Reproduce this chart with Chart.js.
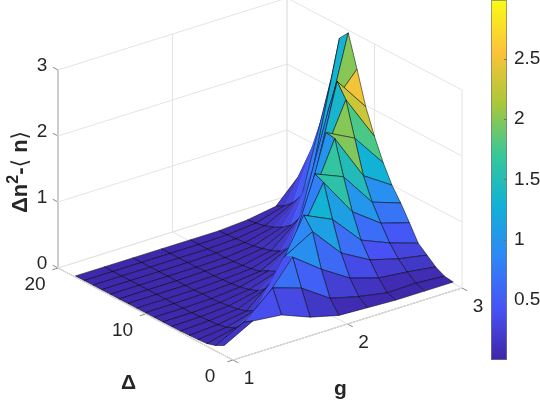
<!DOCTYPE html>
<html>
<head>
<meta charset="utf-8">
<title>Surface plot</title>
<script src="https://cdn.jsdelivr.net/npm/chart.js@4"></script>
<style>
  html, body { margin: 0; padding: 0; background: #fff; }
  #wrap { position: relative; width: 540px; height: 402px; overflow: hidden; }
  #surface { position: absolute; left: 0; top: 0; }
  #colorbar { position: absolute; left: 491px; top: 0; }
</style>
</head>
<body>
<div id="wrap">
  <canvas id="surface" width="540" height="402"></canvas>
  <canvas id="colorbar" width="49" height="360"></canvas>
</div>
<script>
// Grid of the surface
const gValues = [1, 1.25, 1.5, 1.75, 2, 2.25, 2.5, 2.75, 3];
const deltaValues = [1, 2, 3, 4, 5, 6, 7, 8, 9, 10, 11, 12, 13, 14, 15, 16, 17, 18];

// z values, one list per g, delta going 1 to 18
const zG100 = [0.15, 0.08, 0.04, 0.03, 0.025, 0.02, 0.02, 0.02, 0.02, 0.02, 0.02, 0.02, 0.02, 0.02, 0.02, 0.02, 0.02, 0.02];
const zG125 = [0.385, 0.3, 0.14, 0.08, 0.05, 0.04, 0.03, 0.02, 0.02, 0.02, 0.02, 0.02, 0.02, 0.02, 0.02, 0.02, 0.02, 0.02];
const zG150 = [0.34, 0.68, 0.42, 0.2, 0.12, 0.08, 0.06, 0.04, 0.03, 0.03, 0.02, 0.02, 0.02, 0.02, 0.02, 0.02, 0.02, 0.02];
const zG175 = [0.17, 0.54, 0.94, 0.87, 0.5, 0.26, 0.15, 0.1, 0.07, 0.05, 0.04, 0.03, 0.03, 0.02, 0.02, 0.02, 0.02, 0.02];
const zG200 = [0.06, 0.25, 0.62, 1.12, 1.3, 0.8, 0.42, 0.24, 0.18, 0.1, 0.07, 0.05, 0.04, 0.03, 0.03, 0.02, 0.02, 0.02];
const zG225 = [0.04, 0.14, 0.35, 0.66, 1.1, 1.59, 1.65, 1.0, 0.55, 0.32, 0.2, 0.14, 0.1, 0.07, 0.05, 0.04, 0.03, 0.02];
const zG250 = [0.02, 0.06, 0.215, 0.42, 0.65, 1.01, 1.47, 1.98, 2.0, 1.35, 0.8, 0.5, 0.32, 0.22, 0.15, 0.1, 0.07, 0.05];
const zG275 = [0.02, 0.07, 0.17, 0.3, 0.47, 0.7, 0.95, 1.28, 1.78, 2.29, 2.5, 2.0, 1.3, 0.8, 0.5, 0.32, 0.2, 0.12];
const zG300 = [0.02, 0.04, 0.11, 0.22, 0.33, 0.57, 0.8, 1.0, 1.27, 1.6, 1.98, 2.48, 2.96, 2.81, 2.1, 1.46, 0.98, 0.56];
const zByG = [zG100, zG125, zG150, zG175, zG200, zG225, zG250, zG275, zG300];

// Axis ticks
const gTicks = [1, 2, 3];
const deltaTicks = [0, 10, 20];
const zTicks = [0, 1, 2, 3];
const colorTicks = [0.5, 1, 1.5, 2, 2.5];
const colorRange = [0, 2.99];

// Parula colormap
const parula = [
    [62, 38, 168], [72, 82, 244], [46, 135, 247], [18, 177, 214],
    [55, 200, 151], [171, 199, 57], [254, 195, 56], [249, 251, 21]
];

function colorFor(z) {
    const t = Math.min(1, Math.max(0, (z - colorRange[0]) / (colorRange[1] - colorRange[0]))) * (parula.length - 1);
    const i = Math.min(parula.length - 2, Math.floor(t));
    const f = t - i;
    const c = parula[i].map((v, k) => Math.round(v + (parula[i + 1][k] - v) * f));
    return `rgb(${c[0]},${c[1]},${c[2]})`;
}

// Orthographic view of the box (g, delta, z) onto the flat x/y scales
function project(g, delta, z) {
    return {
        x: 233 + (g - 1) * 114.5 - delta * 8.75,
        y: 360 - (g - 1) * 36 - delta * 4.6 - z * 66
    };
}

function lineSet(from, to, color, width) {
    return {
        data: [project(...from), project(...to)],
        showLine: true,
        borderColor: color,
        borderWidth: width,
        pointRadius: 0,
        fill: false,
        order: 1000
    };
}

const datasets = [];

// Surface faces. Nearest first, since Chart.js paints the first dataset last.
// Each face takes the colour of its lowest g / lowest delta corner like surf does.
for (let j = 0; j < gValues.length - 1; j++) {
    const peak = zByG[j].indexOf(Math.max(...zByG[j]));
    for (let i = 0; i < deltaValues.length - 1; i++) {
        const corners = [[j, i], [j + 1, i], [j + 1, i + 1], [j, i + 1], [j, i]];
        const z = zByG[j][i];
        const color = colorFor(z);
        // back slope of the ridge shows no edges in the original
        const noEdge = i > peak && z > 0.2 && z < 0.7;
        datasets.push({
            data: corners.map(([b, a]) => project(gValues[b], deltaValues[a], zByG[b][a])),
            showLine: true,
            tension: 0,
            pointRadius: 0,
            borderColor: noEdge ? color : 'rgba(0,0,0,0.85)',
            borderWidth: 0.6,
            backgroundColor: color,
            fill: 'shape',
            order: j * 100 + i
        });
    }
}

// Grid on the walls and the floor
const gridColor = '#e4e4e4';
zTicks.forEach(z => {
    datasets.push(lineSet([1, 20, z], [3, 20, z], gridColor, 1));
    datasets.push(lineSet([3, 20, z], [3, 0, z], gridColor, 1));
});
gTicks.forEach(g => {
    datasets.push(lineSet([g, 20, 0], [g, 20, 3], gridColor, 1));
    datasets.push(lineSet([g, 20, 0], [g, 0, 0], gridColor, 1));
});
deltaTicks.forEach(d => {
    datasets.push(lineSet([3, d, 0], [3, d, 3], gridColor, 1));
    datasets.push(lineSet([1, d, 0], [3, d, 0], gridColor, 1));
});

// Axis lines and tick marks
const axisColor = '#8a8a8a';
datasets.push(lineSet([1, 20, 0], [1, 20, 3], '#b5b5b5', 2));
datasets.push(lineSet([1, 20, 0], [1, 0, 0], axisColor, 1));
datasets.push(lineSet([1, 0, 0], [3, 0, 0], axisColor, 1));
zTicks.forEach(z => datasets.push(lineSet([1, 20, z], [1, 20.6, z], axisColor, 1)));
deltaTicks.forEach(d => datasets.push(lineSet([1, d, 0], [0.95, d, 0], axisColor, 1)));
gTicks.forEach(g => datasets.push(lineSet([g, 0, 0], [g, -0.6, 0], axisColor, 1)));

// Tick labels and axis titles
const labelPlugin = {
    id: 'labels',
    afterDraw(chart) {
        const { ctx, scales } = chart;
        const put = (text, p, dx, dy) => {
            ctx.fillText(text, scales.x.getPixelForValue(p.x) + dx, scales.y.getPixelForValue(p.y) + dy);
        };
        ctx.save();
        ctx.fillStyle = '#262626';
        ctx.textAlign = 'center';
        ctx.textBaseline = 'middle';
        ctx.font = '19px "Liberation Sans"';
        zTicks.forEach(z => put(String(z), project(1, 20, z), -16, -4));
        deltaTicks.forEach(d => put(String(d), project(1, d, 0), -23, 17));
        gTicks.forEach(g => put(String(g), project(g, 0, 0), 16, 19));

        ctx.font = 'bold 21px "Liberation Sans"';
        put('\u0394', project(1, 10, 0), -17, 69);
        put('g', project(2, 0, 0), -7, 65);

        // z title, pieces laid out bottom to top
        ctx.translate(27, 213);
        ctx.rotate(-Math.PI / 2);
        ctx.textAlign = 'left';
        ctx.textBaseline = 'alphabetic';
        let at = 0;
        const piece = (text, font, rise) => {
            ctx.font = font;
            ctx.fillText(text, at, -rise);
            at += ctx.measureText(text).width;
        };
        const bold = 'bold 22px "Liberation Sans"';
        piece('\u0394n', bold, 0);
        piece('2', 'bold 16px "Liberation Sans"', 9);
        piece('-', bold, 0);
        piece('\u27E8', '22px "DejaVu Sans"', 0);
        piece(' n', bold, 0);
        piece('\u27E9', '22px "DejaVu Sans"', 0);
        ctx.restore();
    }
};

new Chart(document.getElementById('surface'), {
    type: 'scatter',
    data: { datasets: datasets },
    options: {
        responsive: false,
        animation: false,
        parsing: false,
        normalized: true,
        layout: { padding: 0 },
        plugins: { legend: { display: false }, tooltip: { enabled: false } },
        scales: {
            x: { type: 'linear', display: false, min: 0, max: 540 },
            y: { type: 'linear', display: false, min: 0, max: 402, reverse: true }
        }
    },
    plugins: [labelPlugin]
});

// Colorbar
const colorbarFrame = {
    id: 'frame',
    afterDraw(chart) {
        const { ctx, chartArea: a, scales } = chart;
        ctx.save();
        ctx.strokeStyle = '#6e6e6e';
        ctx.lineWidth = 1;
        colorTicks.forEach(v => {
            const y = Math.round(scales.y.getPixelForValue(v)) + 0.5;
            ctx.beginPath();
            ctx.moveTo(a.right - 3, y);
            ctx.lineTo(a.right, y);
            ctx.stroke();
        });
        ctx.strokeStyle = 'rgba(120,120,120,0.7)';
        ctx.strokeRect(a.left + 0.5, a.top + 0.5, a.right - a.left - 1, a.bottom - a.top - 1);
        ctx.restore();
    }
};

new Chart(document.getElementById('colorbar'), {
    type: 'bar',
    data: {
        labels: [''],
        datasets: [{
            data: [colorRange[1]],
            barPercentage: 1,
            categoryPercentage: 1,
            backgroundColor(context) {
                const { chart } = context;
                if (!chart.chartArea) return parula[0];
                const grad = chart.ctx.createLinearGradient(0, chart.chartArea.bottom, 0, chart.chartArea.top);
                parula.forEach((c, i) => grad.addColorStop(i / (parula.length - 1), `rgb(${c[0]},${c[1]},${c[2]})`));
                return grad;
            }
        }]
    },
    options: {
        responsive: false,
        animation: false,
        layout: { padding: 0 },
        plugins: { legend: { display: false }, tooltip: { enabled: false } },
        scales: {
            x: { display: false },
            y: {
                position: 'right',
                min: colorRange[0],
                max: colorRange[1],
                grid: { display: false, drawTicks: false },
                border: { display: false },
                afterBuildTicks(scale) {
                    scale.ticks = colorTicks.map(v => ({ value: v }));
                },
                afterFit(scale) {
                    scale.width = 33;
                    scale.paddingTop = 0;
                    scale.paddingBottom = 0;
                },
                ticks: {
                    padding: 7,
                    color: '#262626',
                    font: { family: '"Liberation Sans"', size: 19 },
                    callback: v => String(v)
                }
            }
        }
    },
    plugins: [colorbarFrame]
});
</script>
</body>
</html>
